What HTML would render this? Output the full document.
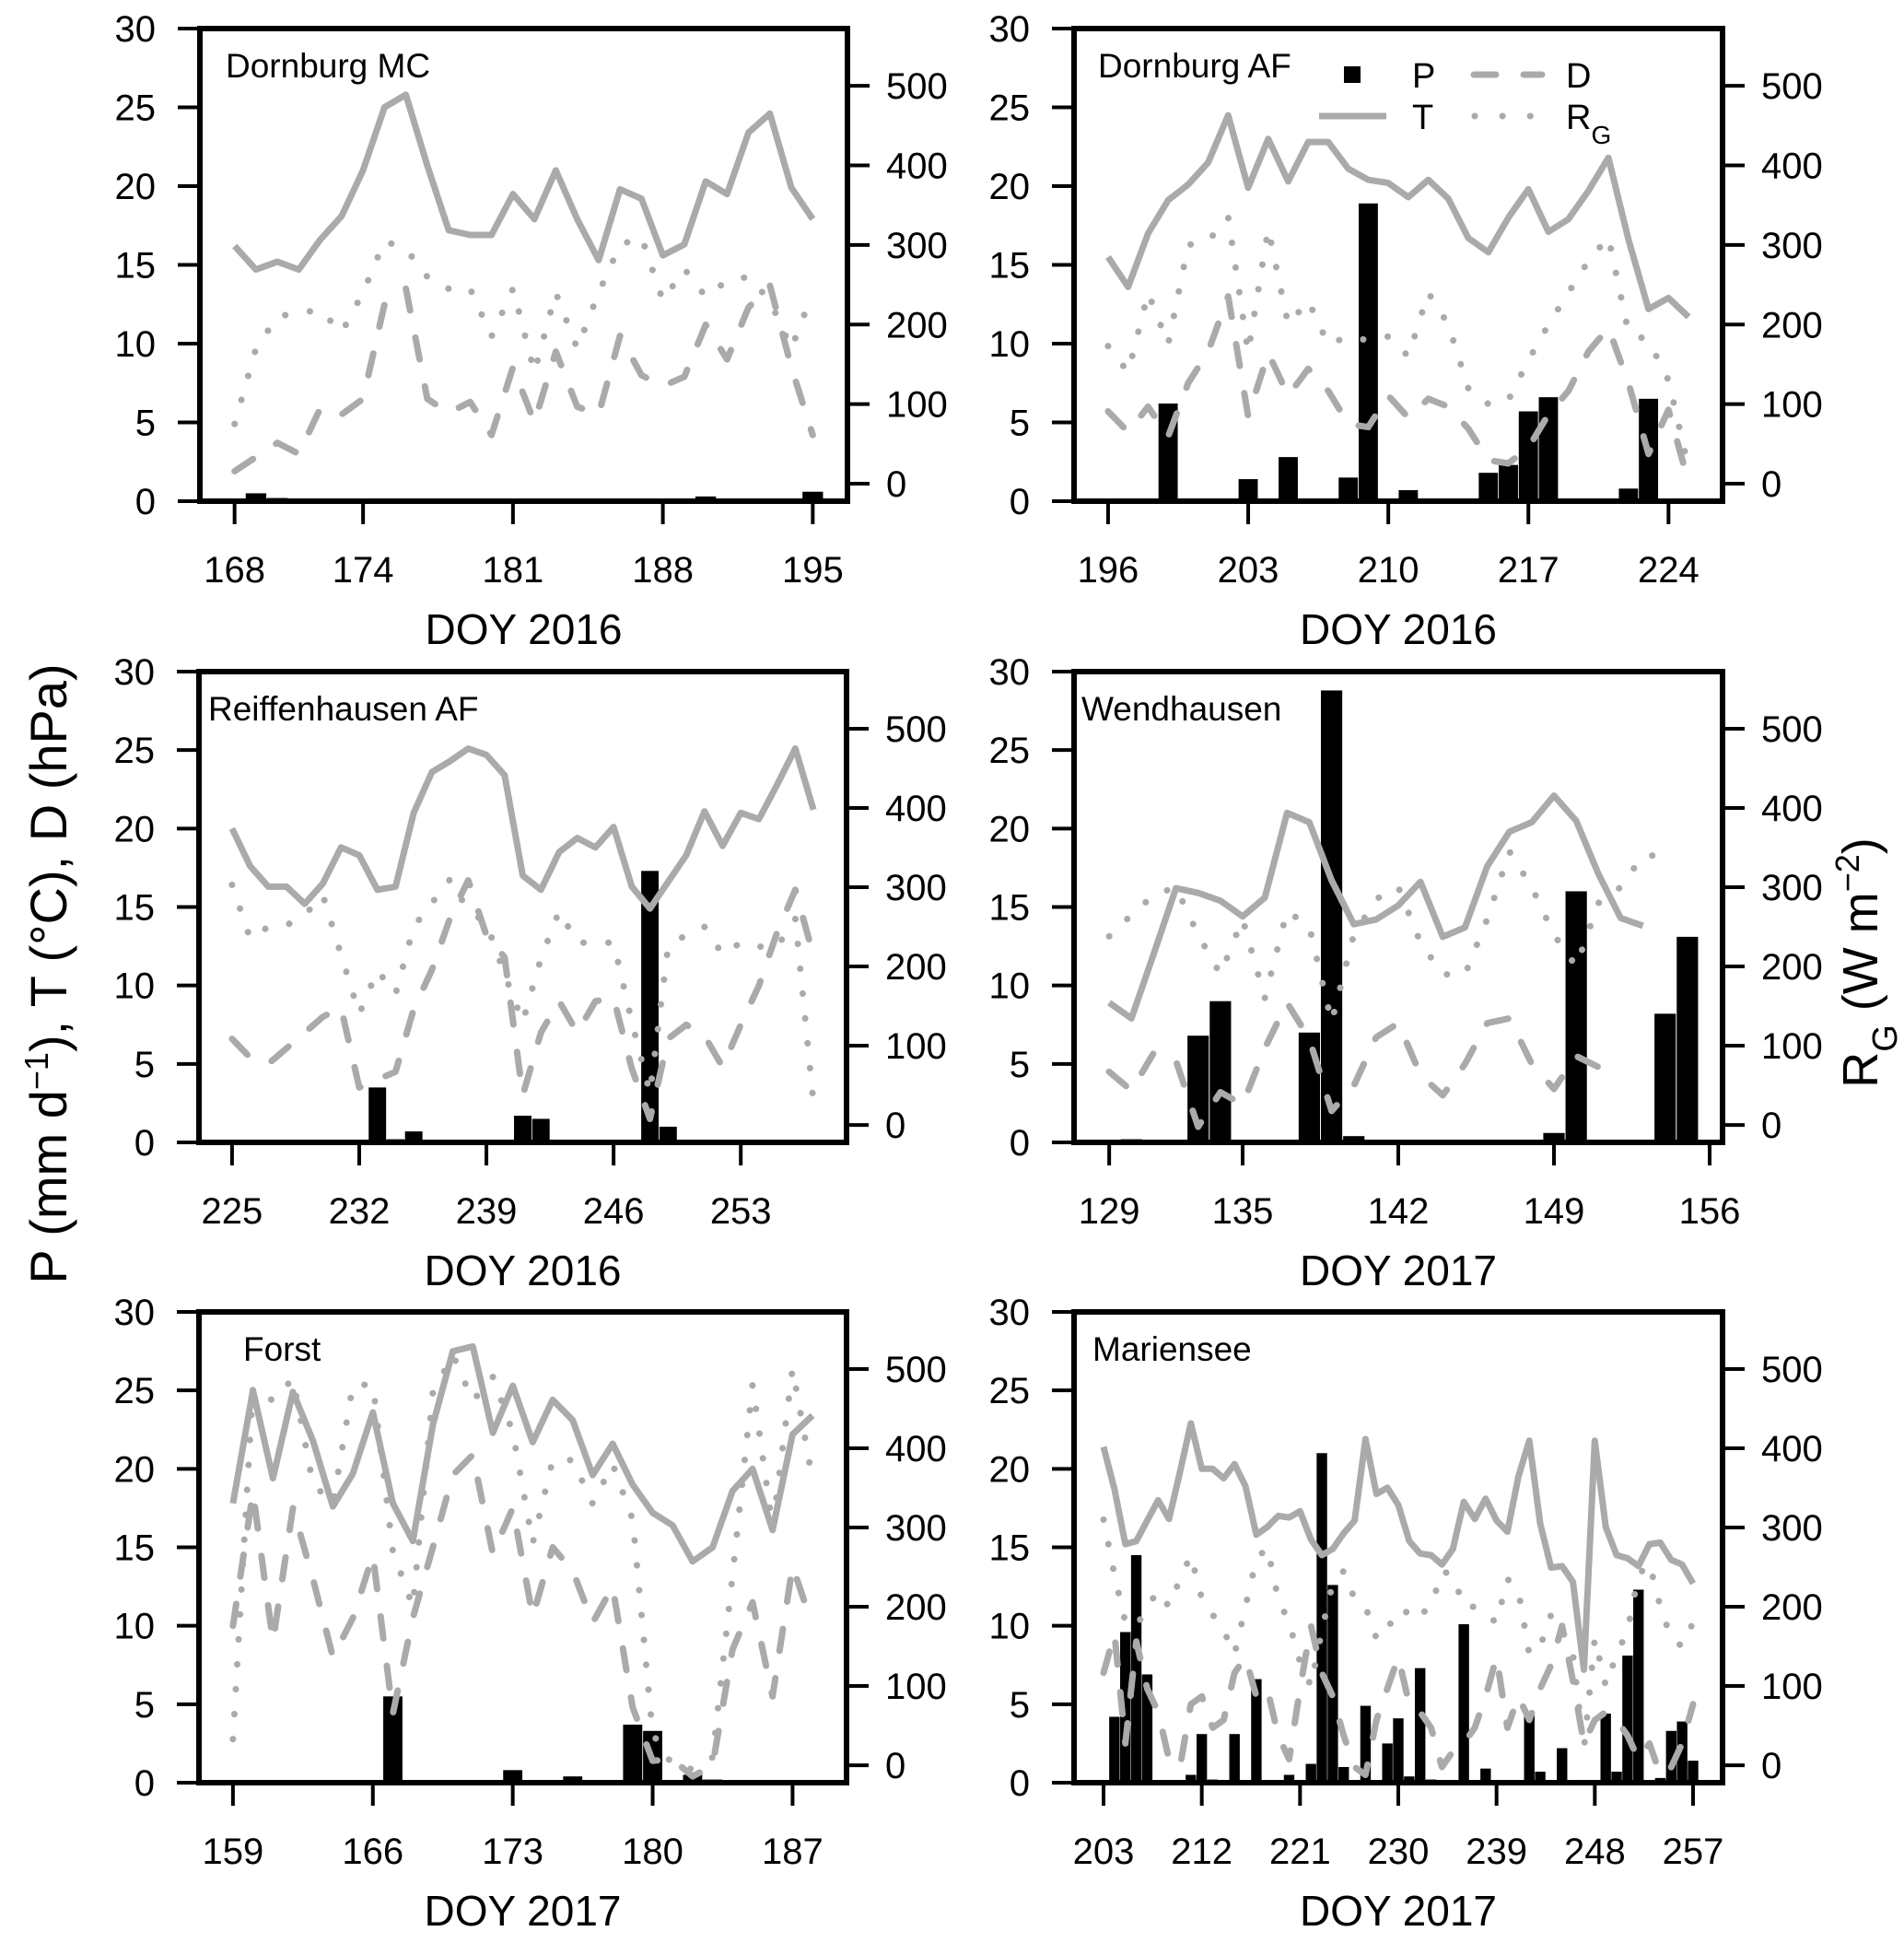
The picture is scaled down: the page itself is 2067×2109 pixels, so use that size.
<!DOCTYPE html>
<html><head><meta charset="utf-8"><style>
html,body{margin:0;padding:0;background:#fff}
svg{display:block}
text{font-family:"Liberation Sans",Arial,sans-serif;fill:#000}
</style></head><body>
<svg id="chart" width="2067" height="2109" viewBox="0 0 2067 2109" xmlns="http://www.w3.org/2000/svg">
<text transform="translate(72,1057) rotate(-90)" text-anchor="middle" font-size="56">P (mm d<tspan baseline-shift="super" font-size="36">−1</tspan>), T (°C), D (hPa)</text>
<text transform="translate(2038,1045) rotate(-90)" text-anchor="middle" font-size="54">R<tspan baseline-shift="sub" font-size="38">G</tspan> (W m<tspan baseline-shift="super" font-size="36">−2</tspan>)</text>
<g id="legend">
  <rect x="1459" y="72" width="18" height="18" fill="#000"/>
  <text x="1533" y="95" font-size="38">P</text>
  <line x1="1600" y1="81" x2="1674" y2="81" stroke="#aaa" stroke-width="7" stroke-linecap="round" stroke-dasharray="24 30"/>
  <text x="1700" y="95" font-size="38">D</text>
  <line x1="1432" y1="126" x2="1505" y2="126" stroke="#aaa" stroke-width="7"/>
  <text x="1533" y="140" font-size="38">T</text>
  <line x1="1601" y1="126" x2="1664" y2="126" stroke="#aaa" stroke-width="7" stroke-linecap="round" stroke-dasharray="0.1 30"/>
  <text x="1700" y="140" font-size="38">R<tspan baseline-shift="sub" font-size="28">G</tspan></text>
</g>
</svg>
<script>
// ---- data (daily values) ----
const start1 = 168;
const T1 = [16.2,14.7,15.2,14.7,16.6,18.1,21.0,25.0,25.8,21.3,17.2,16.9,16.9,19.5,17.9,21.0,17.9,15.3,19.8,19.2,15.6,16.3,20.3,19.5,23.4,24.6,19.9,17.9];
const D1 = [1.9,2.8,3.7,3.0,5.9,5.5,6.5,12.5,13.5,6.5,5.6,6.3,4.2,8.5,5.0,9.5,6.0,5.5,10.5,8.0,7.3,7.9,11.2,9.0,12.3,13.7,8.5,4.2];
const RG1 = [75,170,210,215,218,190,240,305,295,260,245,245,185,245,140,240,170,240,300,310,230,270,235,255,260,230,170,240];
const P1 = [0,0.5,0.2,0,0,0,0,0,0,0,0,0,0,0,0,0,0,0,0,0,0,0,0.3,0,0,0,0,0.6];
const ticks1 = [168,174,181,188,195];

const start2 = 196;
const T2 = [15.5,13.6,17.0,19.1,20.1,21.5,24.5,19.9,23.0,20.3,22.8,22.8,21.1,20.4,20.2,19.3,20.4,19.2,16.7,15.8,18.0,19.8,17.1,17.9,19.7,21.8,16.6,12.2,12.9,11.7];
const D2 = [5.7,4.4,6.0,4.1,7.5,9.5,13.0,5.4,9.4,6.7,8.4,7.0,4.9,4.7,6.7,5.3,6.5,6.0,4.6,2.6,2.4,3.4,5.5,7.0,9.5,11.0,7.5,3.0,5.8,1.2];
const RG2 = [173,140,240,175,300,305,335,165,320,200,230,175,185,180,185,160,240,200,120,100,105,155,200,240,280,310,190,180,130,20];
const P2 = [0,0,0,6.2,0,0,0,1.4,0,2.8,0,0.1,1.5,18.9,0,0.7,0,0.1,0,1.8,2.3,5.7,6.6,0,0,0,0.8,6.5,0.1,0.1];
const ticks2 = [196,203,210,217,224];

const start3 = 225;
const T3 = [20.0,17.6,16.3,16.3,15.2,16.5,18.8,18.3,16.1,16.3,21.0,23.6,24.3,25.1,24.7,23.4,17.0,16.1,18.5,19.4,18.8,20.1,16.3,14.9,16.6,18.3,21.1,18.9,21.0,20.6,22.8,25.1,21.2];
const D3 = [6.6,5.4,5.0,6.0,7.0,8.0,8.6,3.5,4.0,4.5,8.5,11.0,14.3,16.7,13.2,11.8,3.0,7.0,9.0,7.0,9.0,9.2,4.7,1.5,6.6,7.5,6.8,4.8,7.5,10.0,13.4,16.1,11.9];
const RG3 = [303,235,250,252,265,290,215,140,195,165,250,280,310,270,255,190,130,210,270,230,230,230,130,40,225,240,250,215,230,225,225,260,28];
const P3 = [0,0,0,0,0,0,0,0,3.5,0.2,0.7,0,0,0,0,0,1.7,1.5,0,0,0,0,0,17.3,1.0,0,0,0,0,0,0,0,0];
const ticks3 = [225,232,239,246,253];

const start4 = 129;
const T4 = [8.9,7.9,12.0,16.2,15.9,15.4,14.4,15.6,21.0,20.4,16.7,13.9,14.2,15.1,16.6,13.1,13.7,17.6,19.8,20.4,22.1,20.5,17.1,14.3,13.8,null,null];
const D4 = [4.5,3.3,5.7,5.2,1.0,3.2,2.4,6.0,8.9,6.6,2.0,3.6,6.7,7.6,4.3,3.0,5.0,7.6,7.9,5.0,3.4,5.5,4.8,null,null,null,null];
const RG4 = [238,265,290,300,240,190,260,160,270,250,130,240,285,300,230,190,190,260,345,300,240,200,280,300,340,340,null];
const P4 = [0,0.2,0,0,6.8,9.0,0,0,0,7.0,28.8,0.4,0,0,0,0,0,0,0,0,0.6,16.0,0,0,0,8.2,13.1];
const ticks4 = [129,135,142,149,156];

const start5 = 159;
const T5 = [17.8,25.0,19.4,24.9,21.8,17.6,19.7,23.6,17.8,15.4,22.8,27.5,27.8,22.3,25.3,21.7,24.4,23.1,19.6,21.6,19.0,17.2,16.4,14.1,15.0,18.6,20.0,16.1,22.2,23.4];
const D5 = [10.0,18.5,9.0,17.5,13.0,8.0,10.5,14.5,4.4,10.5,15.0,19.6,20.9,14.6,17.5,10.6,15.0,13.5,10.2,12.5,4.8,1.4,1.5,0.4,1.1,8.5,11.5,5.5,13.8,10.0];
const RG5 = [33,477,460,488,355,330,480,480,270,200,470,518,460,490,420,280,385,385,330,380,310,40,0,-5,10,240,480,300,500,360];
const P5 = [0,0,0,0,0,0,0,0,5.5,0,0,0,0,0,0.8,0,0,0.4,0,0,3.7,3.3,0,0.5,0.2,0,0,0,0,0.1];
const ticks5 = [159,166,173,180,187];

const start6 = 203;
const T6 = [21.4,18.7,15.2,15.4,16.7,18.0,16.8,19.8,22.9,20.0,20.0,19.4,20.3,18.9,15.8,16.3,17.0,16.9,17.3,15.5,14.5,14.9,15.9,16.7,21.9,18.4,18.8,17.7,15.4,14.6,14.5,13.9,14.9,17.9,16.8,18.1,16.7,16.0,19.5,21.8,16.5,13.7,13.8,12.8,7.2,21.8,16.3,14.5,14.3,13.8,15.2,15.3,14.2,13.9,12.7];
const D6 = [7.0,9.5,2.5,9.0,6.0,4.5,1.5,1.0,5.0,5.5,3.5,4.0,7.0,8.0,5.5,6.0,3.0,1.5,6.0,10.0,7.0,5.5,3.0,1.0,0.5,4.0,6.0,8.0,5.0,4.5,3.5,1.0,2.0,2.5,3.5,5.5,8.0,3.5,5.5,4.0,6.0,7.5,10.0,6.5,2.5,4.0,4.5,4.0,3.0,1.5,2.5,0.5,1.0,2.5,5.0];
const RG6 = [310,240,180,175,200,220,200,235,265,210,190,170,140,200,260,275,210,180,130,100,170,230,245,210,200,160,180,175,200,190,200,245,240,200,200,190,180,235,220,140,150,190,170,140,20,160,100,140,170,240,255,200,160,150,180];
const P6 = [0,4.2,9.6,14.5,6.9,0,0,0,0.5,3.1,0.2,0,3.1,0,6.6,0,0,0.5,0,1.2,21.0,12.6,1.0,0,4.9,0,2.5,4.1,0.4,7.3,0.2,0,0,10.1,0,0.9,0,0,0,4.4,0.7,0,2.2,0,0,0,4.4,0.7,8.1,12.3,0,0.3,3.3,3.9,1.4];
const ticks6 = [203,212,221,230,239,248,257];

const leftTicks = [0,5,10,15,20,25,30];
const rightTicks = [0,100,200,300,400,500];

const panels = [
  {name:'dornburg-mc', label:'Dornburg MC', title:'DOY 2016', L:217, Tp:31, R:920, B:544, lx:28, start:start1, T:T1, D:D1, RG:RG1, P:P1, ticks:ticks1},
  {name:'dornburg-af', label:'Dornburg AF', title:'DOY 2016', L:1166, Tp:31, R:1870, B:544, lx:26, start:start2, T:T2, D:D2, RG:RG2, P:P2, ticks:ticks2},
  {name:'reiffenhausen-af', label:'Reiffenhausen AF', title:'DOY 2016', L:216, Tp:729, R:919, B:1240, lx:10, start:start3, T:T3, D:D3, RG:RG3, P:P3, ticks:ticks3},
  {name:'wendhausen', label:'Wendhausen', title:'DOY 2017', L:1166, Tp:729, R:1870, B:1240, lx:8, start:start4, T:T4, D:D4, RG:RG4, P:P4, ticks:ticks4},
  {name:'forst', label:'Forst', title:'DOY 2017', L:216, Tp:1424, R:919, B:1935, lx:48, start:start5, T:T5, D:D5, RG:RG5, P:P5, ticks:ticks5},
  {name:'mariensee', label:'Mariensee', title:'DOY 2017', L:1166, Tp:1424, R:1870, B:1935, lx:20, start:start6, T:T6, D:D6, RG:RG6, P:P6, ticks:ticks6}
];

const NS = 'http://www.w3.org/2000/svg';
const svg = document.getElementById('chart');
const GRAY = '#aaaaaa';
function mk(tag, attrs, parent) {
  const e = document.createElementNS(NS, tag);
  for (const k in attrs) e.setAttribute(k, attrs[k]);
  parent.appendChild(e);
  return e;
}

panels.forEach(function(p) {
  const n = p.T.length;
  const x0 = p.start - 0.5, x1 = p.start + n - 0.5;
  const pad = (x1 - x0) * 0.04;
  const xmin = x0 - pad, xmax = x1 + pad;
  const xs = function(d) { return p.L + (d - xmin) / (xmax - xmin) * (p.R - p.L); };
  const yl = function(v) { return p.B - v / 30 * (p.B - p.Tp); };
  const yr = function(v) { return p.B - (v + 22) / 594 * (p.B - p.Tp); };
  const dayW = (p.R - p.L) / (xmax - xmin);

  const g = mk('g', {}, svg);
  
  

  const bars = mk('g', {}, g);
  
  
  p.P.forEach(function(v, i) {
    if (!v) return;
    const d = p.start + i;
    const r = mk('rect', {x: xs(d) - dayW * 0.48, y: yl(v), width: dayW * 0.96, height: p.B - yl(v), fill: '#000'}, bars);
    
    
  });

  function series(arr, yf, dash, nm) {
    let segs = [], cur = [];
    arr.forEach(function(v, i) {
      if (v === null) { if (cur.length) segs.push(cur); cur = []; return; }
      cur.push(xs(p.start + i).toFixed(1) + ',' + yf(v).toFixed(1));
    });
    if (cur.length) segs.push(cur);
    segs.forEach(function(s) {
      const a = {points: s.join(' '), fill: 'none', stroke: GRAY, 'stroke-width': 7, 'stroke-linejoin': 'round'};
      if (dash) { a['stroke-dasharray'] = dash; a['stroke-linecap'] = 'round'; }
      const pl = mk('polyline', a, g);
      
      
    });
  }
  series(p.RG, yr, '0.1 27', 'radiation-rg-line');
  series(p.D, yl, '24 30', 'vpd-d-line');
  series(p.T, yl, null, 'temperature-t-line');

  const box = mk('rect', {x: p.L, y: p.Tp, width: p.R - p.L, height: p.B - p.Tp, fill: 'none', stroke: '#000', 'stroke-width': 6}, g);
  
  

  leftTicks.forEach(function(v) {
    const y = yl(v);
    const tl = mk('line', {x1: p.L - 24, x2: p.L, y1: y, y2: y, stroke: '#000', 'stroke-width': 4}, g);
    
    
    const t = mk('text', {x: p.L - 48, y: y + 14, 'text-anchor': 'end', 'font-size': 40}, g);
    t.textContent = v;
    
    
  });
  rightTicks.forEach(function(v) {
    const y = yr(v);
    const tl = mk('line', {x1: p.R, x2: p.R + 24, y1: y, y2: y, stroke: '#000', 'stroke-width': 4}, g);
    
    
    const t = mk('text', {x: p.R + 42, y: y + 14, 'font-size': 40}, g);
    t.textContent = v;
    
    
  });
  p.ticks.forEach(function(d) {
    const x = xs(d);
    const tl = mk('line', {x1: x, x2: x, y1: p.B, y2: p.B + 25, stroke: '#000', 'stroke-width': 4}, g);
    
    
    const t = mk('text', {x: x, y: p.B + 88, 'text-anchor': 'middle', 'font-size': 40}, g);
    t.textContent = d;
    
    
  });
  const xt = mk('text', {x: (p.L + p.R) / 2, y: p.B + 155, 'text-anchor': 'middle', 'font-size': 46}, g);
  xt.textContent = p.title;
  
  
  const lb = mk('text', {x: p.L + p.lx, y: p.Tp + 53, 'font-size': 37}, g);
  lb.textContent = p.label;
  
  
});
svg.appendChild(document.getElementById('legend'));
</script>
</body></html>
